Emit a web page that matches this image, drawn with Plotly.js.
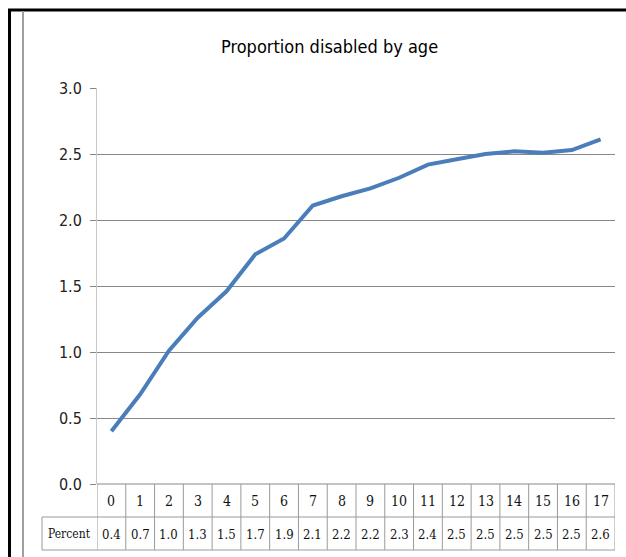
<!DOCTYPE html>
<html>
<head>
<meta charset="utf-8">
<script src="https://cdn.plot.ly/plotly-3.0.1.min.js"></script>
<style>html,body{margin:0;padding:0;background:#fff;}#chart{width:626px;height:557px;}</style>
</head>
<body>
<div id="chart"></div>
<script>
// Data
var ages = [0,1,2,3,4,5,6,7,8,9,10,11,12,13,14,15,16,17];
var percent = [0.40,0.68,1.01,1.26,1.46,1.74,1.86,2.11,2.18,2.24,2.32,2.42,2.46,2.50,2.52,2.51,2.53,2.61];
var tableLabels = ["0.4","0.7","1.0","1.3","1.5","1.7","1.9","2.1","2.2","2.2","2.3","2.4","2.5","2.5","2.5","2.5","2.5","2.6"];
var rowLabel = "Percent";
var chartTitle = "Proportion disabled by age";

var W = 626, H = 557;
var L = 97, R = 615, T = 88, B = 484;
function px(x){ return (x - L) / (R - L); }
function py(y){ return (B - y) / (B - T); }

var narrow = "DejaVu Sans Condensed, Liberation Sans Narrow, sans-serif";
var serif = "DejaVu Serif Condensed, Liberation Serif, serif";
var gridCol = "#878787";
var tableCol = "#9a9a9a";

var shapes = [];
var annotations = [];
var row1Bot = 517, row2Bot = 550;

// table horizontal lines
shapes.push({type:'line', xref:'paper', yref:'paper', x0:0, x1:1, y0:0, y1:0, line:{color:gridCol, width:1}});
shapes.push({type:'line', xref:'paper', yref:'paper', x0:px(42), x1:1, y0:py(row1Bot), y1:py(row1Bot), line:{color:tableCol, width:1}});
shapes.push({type:'line', xref:'paper', yref:'paper', x0:px(42), x1:1, y0:py(row2Bot), y1:py(row2Bot), line:{color:tableCol, width:1}});
shapes.push({type:'line', xref:'paper', yref:'paper', x0:px(42), x1:px(42), y0:py(row1Bot), y1:py(row2Bot), line:{color:tableCol, width:1}});
// vertical lines at category boundaries
for (var i = 0; i <= ages.length; i++) {
  shapes.push({type:'line', xref:'x', yref:'paper', x0:i-0.5, x1:i-0.5, y0:0, y1:py(row2Bot), line:{color:tableCol, width:1}});
}
ages.forEach(function(a, i){
  annotations.push({xref:'x', yref:'paper', x:i, y:py((B+row1Bot)/2+1), text:String(a), showarrow:false, xanchor:'center', yanchor:'middle', font:{family:serif, size:14, color:'#111'}});
  annotations.push({xref:'x', yref:'paper', x:i, y:py((row1Bot+row2Bot)/2+1), text:tableLabels[i], showarrow:false, xanchor:'center', yanchor:'middle', font:{family:serif, size:13, color:'#111'}});
});
annotations.push({xref:'paper', yref:'paper', x:px(69.5), y:py((row1Bot+row2Bot)/2), text:rowLabel, showarrow:false, xanchor:'center', yanchor:'middle', font:{family:serif, size:12, color:'#111'}});

// frame
shapes.push({type:'line', xref:'paper', yref:'paper', x0:px(9.5), x1:px(9.5), y0:py(9), y1:py(557), line:{color:'#000', width:3}});
shapes.push({type:'line', xref:'paper', yref:'paper', x0:px(8), x1:px(626), y0:py(10), y1:py(10), line:{color:'#000', width:3}});
shapes.push({type:'line', xref:'paper', yref:'paper', x0:px(23), x1:px(23), y0:py(11), y1:py(557), line:{color:'#a0a0a0', width:2}});

// title
annotations.push({xref:'paper', yref:'paper', x:px(329), y:py(46), text:chartTitle, showarrow:false, xanchor:'center', yanchor:'middle', font:{family:narrow, size:18, color:'#000'}});

var trace = {
  x: ages, y: percent, type:'scatter', mode:'lines',
  line:{color:'#4a7ebb', width:4},
  hoverinfo:'skip'
};

var layout = {
  width: W, height: H,
  margin:{l:L, r:W-R, t:T, b:H-B, pad:0},
  paper_bgcolor:'#fff', plot_bgcolor:'#fff',
  showlegend:false,
  xaxis:{range:[-0.5,17.5], showticklabels:false, showgrid:false, zeroline:false, showline:false, ticks:'', fixedrange:true},
  yaxis:{range:[0,3], dtick:0.5, tick0:0, tickformat:'.1f', showgrid:true, gridcolor:gridCol, gridwidth:1, zeroline:false,
         showline:true, linecolor:'#c8c8c8', linewidth:1, ticks:'outside', ticklen:6, tickcolor:gridCol, ticklabelstandoff:5,
         tickfont:{family:narrow, size:16, color:'#222'}, fixedrange:true},
  shapes: shapes,
  annotations: annotations
};

Plotly.newPlot('chart', [trace], layout, {displayModeBar:false, staticPlot:true});
</script>
</body>
</html>
